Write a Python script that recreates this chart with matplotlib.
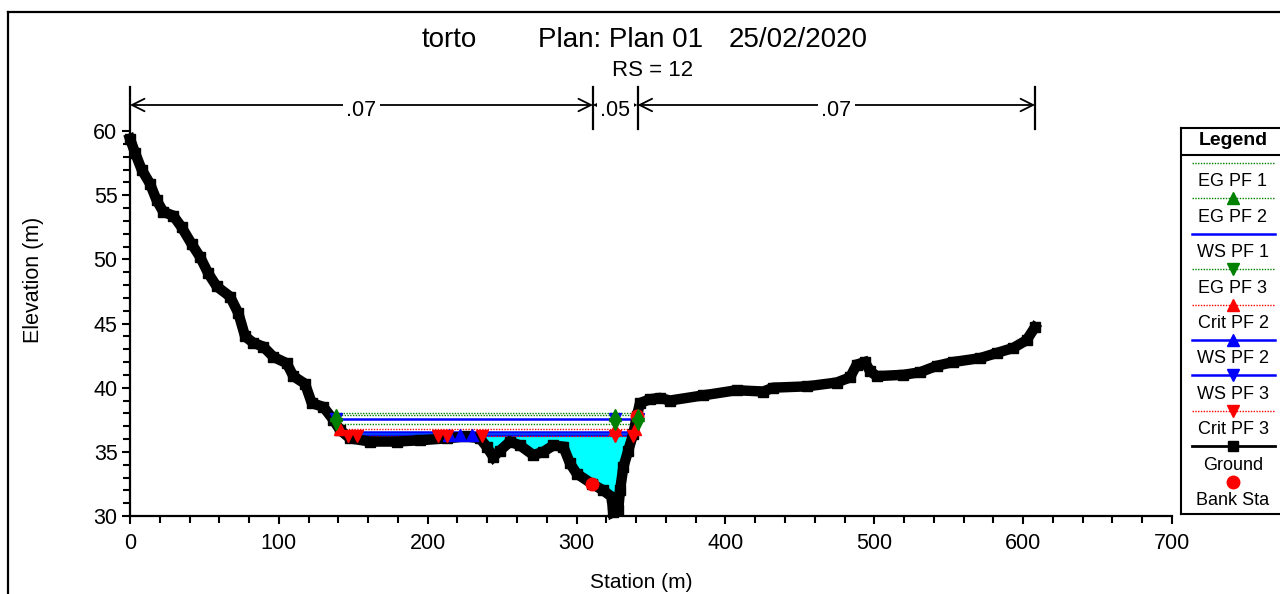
import matplotlib
matplotlib.use("Agg")
import matplotlib.pyplot as plt
from matplotlib.lines import Line2D
from matplotlib.patches import FancyArrowPatch
import numpy as np

plt.rcParams['font.family'] = ['Liberation Sans', 'DejaVu Sans']

# ---- cross-section geometry (station m, elevation m) ----
station = [0, 3.4, 7.8, 13.4, 17.9, 22.4, 29.1, 34.7, 41.4, 47.0, 52.6, 58.2,
           67.2, 72.8, 77.3, 82.8, 89.5, 96.3, 105.3, 109.7, 117.6, 122.1,
           129.9, 136.6, 141.1, 147.8, 161.2, 179.2, 194.8, 212.7, 226.1,
           235.1, 239.6, 244.1, 248.6, 255.3, 262.0, 270.9, 277.6, 284.4,
           291.1, 295.6, 300.1, 310.5, 317.9, 323.5, 324.6, 328.0, 329.2,
           331.4, 334.7, 338.1, 340.5, 342.6, 349.3, 356.0, 362.8, 385.1,
           407.5, 425.4, 432.1, 454.6, 474.7, 483.7, 488.2, 493.7, 497.1,
           501.6, 519.5, 530.7, 541.9, 553.1, 571.0, 582.2, 593.4, 602.3, 607.9]
elevation = [59.4, 58.3, 57.0, 55.9, 54.6, 53.7, 53.4, 52.5, 51.2, 50.2, 48.9, 47.9,
             47.1, 45.8, 44.0, 43.5, 43.2, 42.4, 41.9, 40.9, 40.3, 38.8,
             38.5, 37.5, 36.7, 36.05, 35.8, 35.8, 35.9, 36.05, 36.2,
             36.05, 35.4, 34.6, 35.1, 35.8, 35.5, 34.75, 35.0, 35.5,
             35.4, 34.1, 33.3, 32.5, 32.0, 31.5, 30.3, 30.5, 32.0,
             33.8, 35.1, 36.4, 37.8, 38.8, 39.1, 39.2, 39.0, 39.4,
             39.8, 39.7, 40.0, 40.1, 40.4, 40.8, 41.8, 42.0, 41.3,
             40.9, 41.0, 41.2, 41.7, 42.0, 42.3, 42.7, 43.1, 43.7, 44.7]

bank_sta = [310.5, 340.5]
bank_elev = [32.5, 37.8]

# Manning's n regions
n_breaks = [0, 311, 341, 608]
n_values = ['.07', '.05', '.07']

# ---- water surface / energy grade profiles ----
profile_names = ['EG PF 1', 'EG PF 2', 'WS PF 1', 'EG PF 3',
                 'Crit PF 2', 'WS PF 2', 'WS PF 3', 'Crit PF 3']
profile_elev = [38.0, 37.85, 36.55, 37.2, 36.78, 36.35, 37.55, 36.2]
profile_left = [136.0, 136.5, 142.5, 138.5, 141.0, 144.0, 137.5, 145.0]
profile_right = [341.3, 341.2, 339.5, 340.6, 340.0, 339.0, 340.8, 338.5]
marker_sta = {
    'EG PF 2': [138.5, 326.0, 341.0],
    'EG PF 3': [138.5, 326.0, 341.0],
    'Crit PF 2': [141.0, 326.0, 339.5],
    'WS PF 2': [214.0, 222.0, 230.0],
    'WS PF 3': [138.5, 326.0, 341.0],
    'Crit PF 3': [146.4, 152.5, 206.9, 212.9, 236.5, 325.8, 337.9],
}

GREEN, BLUE, RED = '#008000', '#0000ff', '#ff0000'
dots = (0, (1, 1))
styles = {
    'EG PF 1': dict(color=GREEN, ls=dots, lw=1.0, marker=None),
    'EG PF 2': dict(color=GREEN, ls=dots, lw=1.0, marker='^'),
    'WS PF 1': dict(color=BLUE, ls='-', lw=1.8, marker=None),
    'EG PF 3': dict(color=GREEN, ls=dots, lw=1.0, marker='v'),
    'Crit PF 2': dict(color=RED, ls=dots, lw=1.0, marker='^'),
    'WS PF 2': dict(color=BLUE, ls='-', lw=1.8, marker='^'),
    'WS PF 3': dict(color=BLUE, ls='-', lw=1.8, marker='v'),
    'Crit PF 3': dict(color=RED, ls=dots, lw=1.0, marker='v'),
}
marker_z = {BLUE: 4.0, RED: 4.2, GREEN: 4.4}

W, H = 1280, 594
fig = plt.figure(figsize=(W / 100, H / 100), dpi=100)
ax = fig.add_axes([130 / W, 78 / H, 1042 / W, 385 / H])

sx = np.array(station)
sy = np.array(elevation)

# water fill for the first profile
ws1 = profile_elev[profile_names.index('WS PF 1')]
fx = np.linspace(profile_left[2], profile_right[2], 600)
fy = np.interp(fx, sx, sy)
ax.fill_between(fx, fy, ws1, where=fy < ws1, color='#00ffff', lw=0, zorder=1)

for name, z, x0, x1 in zip(profile_names, profile_elev, profile_left, profile_right):
    st = styles[name]
    ax.plot([x0, x1], [z, z], color=st['color'], ls=st['ls'], lw=st['lw'], zorder=2)

ax.plot(sx, sy, color='black', lw=7.5, marker='s', ms=7.5, mec='black',
        solid_joinstyle='miter', solid_capstyle='projecting', zorder=3, clip_on=False)

for name, z in zip(profile_names, profile_elev):
    st = styles[name]
    if st['marker'] is None:
        continue
    xs = marker_sta[name]
    ax.plot(xs, [z] * len(xs), ls='none', marker=st['marker'], ms=8,
            color=st['color'], mec=st['color'], zorder=marker_z[st['color']])

ax.plot(bank_sta, bank_elev, ls='none', marker='o', ms=9, color=RED, mec=RED, zorder=4.3)

ax.set_xlim(0, 700)
ax.set_ylim(30, 60)
ax.set_xticks(range(0, 701, 100))
ax.set_xticks(range(0, 701, 20), minor=True)
ax.set_yticks(range(30, 61, 5))
ax.set_yticks(range(30, 61, 1), minor=True)
for s in ['top', 'right']:
    ax.spines[s].set_visible(False)
for s in ['left', 'bottom']:
    ax.spines[s].set_linewidth(1.6)
ax.tick_params(axis='both', which='major', length=6, width=1.5, labelsize=15.5)
ax.tick_params(axis='both', which='minor', length=5, width=1.5)
ax.tick_params(axis='x', pad=6)
ax.tick_params(axis='y', pad=3)

# Manning's n bracket annotations above the plot
trans = ax.get_xaxis_transform()
y_line = (516 - 105) / 385
y_top = (516 - 87) / 385
y_bot = (516 - 129) / 385
for xb in n_breaks:
    ax.plot([xb, xb], [y_bot, y_top], color='black', lw=1.6, transform=trans, clip_on=False)
for i, label in enumerate(n_values):
    a, b = n_breaks[i], n_breaks[i + 1]
    arr = FancyArrowPatch((a, y_line), (b, y_line), transform=trans,
                          arrowstyle='<->,head_length=0.9,head_width=0.45',
                          mutation_scale=10, shrinkA=0, shrinkB=0,
                          color='black', lw=1.3, clip_on=False)
    ax.add_patch(arr)
    ax.text((a + b) / 2, y_line - 0.015, label, transform=trans, ha='center', va='center',
            fontsize=15.5, clip_on=False,
            bbox=dict(boxstyle='square,pad=0.15', fc='white', ec='none'))

# titles
fig.text(449 / W, 1 - 40 / H, 'torto', ha='center', va='center', fontsize=20)
fig.text(621 / W, 1 - 40 / H, 'Plan: Plan 01', ha='center', va='center', fontsize=20)
fig.text(798 / W, 1 - 40 / H, '25/02/2020', ha='center', va='center', fontsize=20)
fig.text(653 / W, 1 - 70 / H, 'RS = 12', ha='center', va='center', fontsize=16)
fig.text(641 / W, 1 - 583 / H, 'Station (m)', ha='center', va='center', fontsize=15)
fig.text(33 / W, 1 - 280 / H, 'Elevation (m)', ha='center', va='center',
         rotation=90, fontsize=15.5)

# outer frame
fig.add_artist(Line2D([8 / W, 8 / W], [0, 1 - 12 / H], color='black', lw=1.6,
                      transform=fig.transFigure))
fig.add_artist(Line2D([8 / W, 1], [1 - 12 / H, 1 - 12 / H], color='black', lw=1.6,
                      transform=fig.transFigure))

# legend panel
lax = fig.add_axes([1181 / W, (H - 514) / H, 110 / W, 386 / H])
lax.set_xlim(1181, 1291)
lax.set_ylim(514, 128)
lax.set_xticks([])
lax.set_yticks([])
for s in lax.spines.values():
    s.set_linewidth(1.5)
lax.text(1233, 141, 'Legend', ha='center', va='center', fontsize=14, fontweight='bold')
lax.plot([1181, 1291], [155, 155], color='black', lw=1.5)

legend_order = profile_names + ['Ground', 'Bank Sta']
y0 = 163
step = 35.4
for i, name in enumerate(legend_order):
    yl = y0 + i * step
    yt = yl + 19
    if name in styles:
        st = styles[name]
        lax.plot([1192, 1275], [yl, yl], color=st['color'], ls=st['ls'], lw=st['lw'])
        if st['marker']:
            lax.plot([1233], [yl], ls='none', marker=st['marker'], ms=8,
                     color=st['color'], mec=st['color'])
    elif name == 'Ground':
        lax.plot([1192, 1275], [yl, yl], color='black', lw=2)
        lax.plot([1233], [yl], ls='none', marker='s', ms=7, color='black')
    else:
        lax.plot([1233], [yl], ls='none', marker='o', ms=9, color=RED, mec=RED)
    lax.text(1233, yt, name, ha='center', va='center', fontsize=13)

fig.savefig('out.png', dpi=100)
